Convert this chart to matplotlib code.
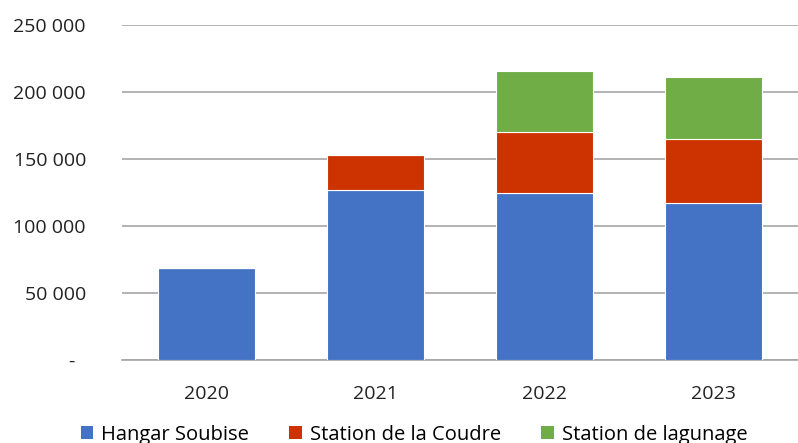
import numpy as np
import matplotlib.pyplot as plt
from matplotlib.patches import Patch

plt.rcParams['font.family'] = ['Open Sans', 'DejaVu Sans']

years = ['2020', '2021', '2022', '2023']
hangar = [69000, 127000, 125000, 117000]
coudre = [0, 26000, 45000, 48000]
lagunage = [0, 0, 46000, 46000]
series = ['Hangar Soubise', 'Station de la Coudre', 'Station de lagunage']
colors = ['#4472C4', '#CC3300', '#70AD47']
yticks = [0, 50000, 100000, 150000, 200000, 250000]
ylabels = ['-  ', '50 000', '100 000', '150 000', '200 000', '250 000']

fig = plt.figure(figsize=(7.98, 4.43), dpi=100)
ax = fig.add_axes([122 / 798, 1 - 360 / 443, 676 / 798, 335 / 443])

x = np.arange(len(years))
bottom = np.zeros(len(years))
for vals, col in zip([hangar, coudre, lagunage], colors):
    ax.bar(x, vals, 0.575, bottom=bottom, color=col, edgecolor='white', linewidth=0.8, zorder=3)
    bottom += np.array(vals)

ax.set_xlim(-0.5, 3.5)
ax.set_ylim(0, 250000)
ax.set_yticks(yticks)
ax.set_yticklabels(ylabels)
ax.set_xticks(x)
ax.set_xticklabels(years)
ax.yaxis.grid(True, color='#a6a6a6', linewidth=1.2, zorder=0)
for s in ['top', 'right', 'left']:
    ax.spines[s].set_visible(False)
ax.spines['bottom'].set_color('#a6a6a6')
ax.spines['bottom'].set_linewidth(1.2)
ax.tick_params(axis='y', length=0, pad=26, labelsize=14, labelcolor='#222222')
ax.tick_params(axis='x', length=0, pad=18, labelsize=14, labelcolor='#222222')

handles = [Patch(facecolor=c, label=s) for c, s in zip(colors, series)]
fig.legend(handles=handles, loc='center', bbox_to_anchor=(0.519, 1 - 435 / 443), ncol=3,
           frameon=False, fontsize=14.5, handlelength=0.62, handleheight=0.62,
           handletextpad=0.4, columnspacing=2.0, borderpad=0)

fig.savefig('out.png', dpi=100)
